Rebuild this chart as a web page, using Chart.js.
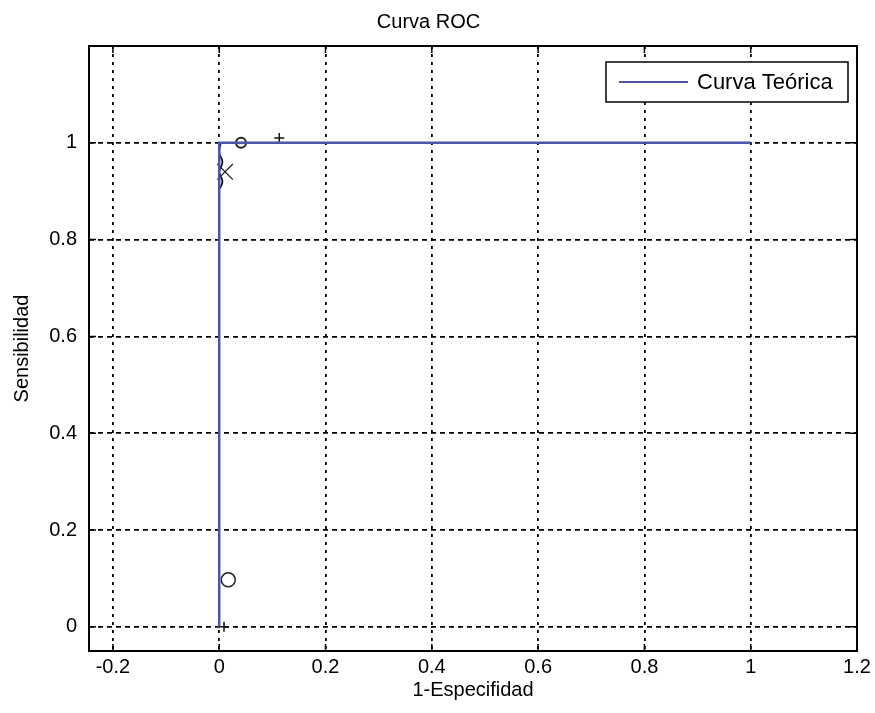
<!DOCTYPE html>
<html>
<head>
<meta charset="utf-8">
<script src="https://cdn.jsdelivr.net/npm/chart.js@4.4.1/dist/chart.umd.min.js"></script>
<style>
  html, body { margin: 0; padding: 0; background: #fff; }
  #wrap { width: 875px; height: 713px; }
</style>
</head>
<body>
<div id="wrap"><canvas id="roc" width="875" height="713"></canvas></div>
<script>
// data
const curveX = [0, 0, 1];
const curveY = [0, 1, 1];
const wiggleX = [0.003, 0.0, 0.006, 0.0, 0.006, 0.001];
const wiggleY = [1.0, 0.98, 0.96, 0.94, 0.92, 0.905];
const plusPts   = [{x: 0.113, y: 1.01}, {x: 0.009, y: 0.0}];
const xPts      = [{x: 0.011, y: 0.94}];
const smallOPts = [{x: 0.041, y: 1.0}];
const bigOPts   = [{x: 0.017, y: 0.097}];
const xTicks = [-0.2, 0, 0.2, 0.4, 0.6, 0.8, 1, 1.2];
const yTicks = [0, 0.2, 0.4, 0.6, 0.8, 1];
const xRange = [-0.245, 1.2];
const yRange = [-0.05, 1.2];

const FONT = "'Liberation Sans', Arial, sans-serif";
const BLUE = '#4b56a8';

const toPts = (xs, ys) => xs.map((x, i) => ({x: x, y: ys[i]}));

// box, inner tick marks and in-plot legend, matlab style
const matlabFrame = {
  id: 'matlabFrame',
  afterDraw(chart) {
    const {ctx, chartArea: a, scales} = chart;
    ctx.save();
    ctx.strokeStyle = '#000';
    ctx.lineWidth = 1.5;
    ctx.setLineDash([]);
    ctx.beginPath();
    xTicks.forEach(v => {
      const px = scales.x.getPixelForValue(v);
      ctx.moveTo(px, a.bottom); ctx.lineTo(px, a.bottom - 7);
      ctx.moveTo(px, a.top);    ctx.lineTo(px, a.top + 7);
    });
    yTicks.forEach(v => {
      const py = scales.y.getPixelForValue(v);
      ctx.moveTo(a.left, py);  ctx.lineTo(a.left + 7, py);
      ctx.moveTo(a.right, py); ctx.lineTo(a.right - 7, py);
    });
    ctx.stroke();
    ctx.lineWidth = 2;
    ctx.strokeRect(a.left, a.top, a.right - a.left, a.bottom - a.top);

    // legend
    const ds = chart.data.datasets[0];
    const bw = 242, bh = 40;
    const bx = a.right - 9 - bw, by = a.top + 16;
    ctx.fillStyle = '#fff';
    ctx.fillRect(bx, by, bw, bh);
    ctx.lineWidth = 1.5;
    ctx.strokeStyle = '#000';
    ctx.strokeRect(bx, by, bw, bh);
    ctx.strokeStyle = ds.borderColor;
    ctx.lineWidth = 2;
    ctx.beginPath();
    ctx.moveTo(bx + 13, by + bh / 2);
    ctx.lineTo(bx + 82, by + bh / 2);
    ctx.stroke();
    ctx.fillStyle = '#000';
    ctx.font = '22px ' + FONT;
    ctx.textBaseline = 'middle';
    ctx.fillText(ds.label, bx + 91, by + bh / 2 + 1);
    ctx.restore();
  }
};

new Chart(document.getElementById('roc').getContext('2d'), {
  type: 'scatter',
  data: {
    datasets: [
      {
        label: 'Curva Teórica',
        type: 'line',
        data: toPts(curveX, curveY),
        borderColor: BLUE,
        borderWidth: 2.5,
        pointRadius: 0,
        fill: false,
        tension: 0
      },
      {
        type: 'line',
        data: toPts(wiggleX, wiggleY),
        borderColor: '#111',
        borderWidth: 1.8,
        pointRadius: 0,
        fill: false,
        tension: 0.4
      },
      {
        data: plusPts,
        pointStyle: 'cross',
        radius: 5,
        borderColor: '#111',
        borderWidth: 1.5
      },
      {
        data: xPts,
        pointStyle: 'crossRot',
        radius: 11,
        borderColor: '#222',
        borderWidth: 1.3
      },
      {
        data: smallOPts,
        pointStyle: 'circle',
        radius: 5,
        backgroundColor: 'rgba(0,0,0,0)',
        borderColor: '#222',
        borderWidth: 2
      },
      {
        data: bigOPts,
        pointStyle: 'circle',
        radius: 7,
        backgroundColor: 'rgba(0,0,0,0)',
        borderColor: '#222',
        borderWidth: 1.5
      }
    ]
  },
  options: {
    responsive: false,
    animation: false,
    layout: { padding: { left: 0, right: 18, top: 0, bottom: 0 } },
    plugins: {
      legend: { display: false },
      tooltip: { enabled: false },
      title: {
        display: true,
        text: 'Curva ROC',
        color: '#000',
        font: { family: FONT, size: 20, weight: 'normal' },
        padding: { top: 10, bottom: 12 }
      }
    },
    scales: {
      x: {
        type: 'linear',
        min: xRange[0],
        max: xRange[1],
        afterBuildTicks: s => { s.ticks = xTicks.map(v => ({value: v})); },
        afterFit: s => { s.height = 62; },
        grid: {
          drawTicks: false,
          lineWidth: 1.8,
          color: ctx => (ctx.tick && ctx.tick.value === 1.2) ? 'rgba(0,0,0,0)' : '#000'
        },
        border: { display: false, dash: [3, 5] },
        ticks: {
          color: '#000',
          padding: 4,
          font: { family: FONT, size: 20 },
          callback: v => String(v)
        },
        title: {
          display: true,
          text: '1-Especifidad',
          color: '#000',
          font: { family: FONT, size: 20 },
          padding: { top: 0, bottom: 11 }
        }
      },
      y: {
        type: 'linear',
        min: yRange[0],
        max: yRange[1],
        afterBuildTicks: s => { s.ticks = yTicks.map(v => ({value: v})); },
        afterFit: s => { s.width = 89; },
        grid: { drawTicks: false, lineWidth: 1.8, color: '#000' },
        border: { display: false, dash: [5, 4] },
        ticks: {
          color: '#000',
          padding: 12,
          font: { family: FONT, size: 20 },
          callback: v => String(v)
        },
        title: {
          display: true,
          text: 'Sensibilidad',
          color: '#000',
          font: { family: FONT, size: 20 },
          padding: { top: 10, bottom: 0 }
        }
      }
    }
  },
  plugins: [matlabFrame]
});
</script>
</body>
</html>
